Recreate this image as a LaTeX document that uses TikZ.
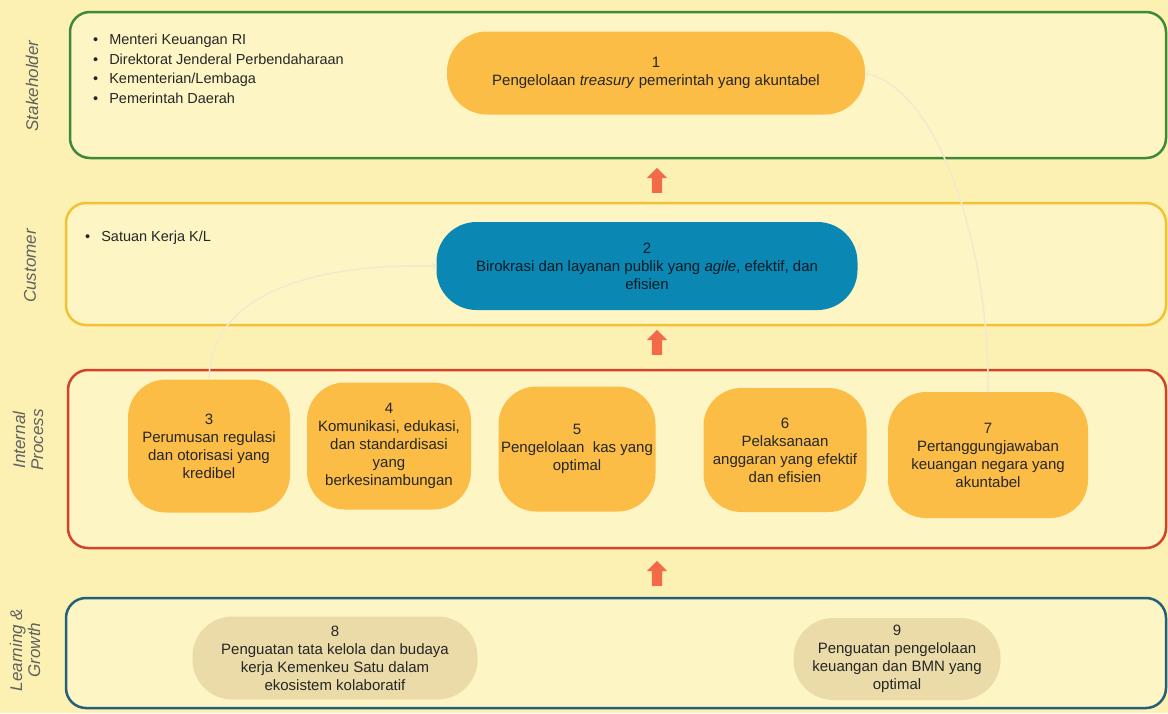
\documentclass[tikz,border=0pt]{standalone}
\usepackage{fontspec}
\setmainfont{Liberation Sans}
\usetikzlibrary{shapes.arrows}
\definecolor{kertas}{HTML}{FCF1B2}
\definecolor{isi}{HTML}{FEF5C4}
\definecolor{hijau}{HTML}{3F8A3A}
\definecolor{kuning}{HTML}{F0C234}
\definecolor{merah}{HTML}{D2432C}
\definecolor{biru}{HTML}{245F7C}
\definecolor{oranye}{HTML}{FBBD45}
\definecolor{tosca}{HTML}{0B87B3}
\definecolor{krem}{HTML}{EADBA8}
\definecolor{panah}{HTML}{F26A48}
\definecolor{garis}{HTML}{F2EAD0}
\definecolor{teks}{HTML}{262626}

\begin{document}
\begin{tikzpicture}[x=1pt,y=-1pt]
		\tikzset{
			lane/.style ={
				rectangle, %矩形
				rounded corners=20pt, %圆角
				line width=2.5pt, %边框粗细
				fill=isi %填充颜色
			},
			goal/.style ={
				rectangle,
				rounded corners=40pt,
				inner sep=0pt, %文字和边框的距离
				fill=oranye,
				text=teks,
				align=center,
				font=\fontsize{15}{18}\selectfont
			},
			proc/.style ={
				goal,
				rounded corners=38pt
			},
			growth/.style ={
				goal,
				fill=krem
			},
			side/.style ={
				rotate=90, %竖排
				align=center,
				text=black!62,
				font=\fontsize{17}{18}\selectfont\itshape
			},
			naik/.style ={
				single arrow, %块状箭头
				rotate=90,
				fill=panah,
				inner sep=5pt,
				minimum height=25pt,
				single arrow head extend=5pt
			},
			link/.style ={
				draw=garis,
				line width=1.5pt
			}
		}
		\fill[kertas] (0,0) rectangle (1168,713);
		\useasboundingbox (0,0) rectangle (1168,713);
		% 四个层次
		\node[lane,draw=hijau,minimum width=1096pt,minimum height=146pt] (sh) at(618,85){};
		\node[lane,draw=kuning,minimum width=1100pt,minimum height=122pt] (cu) at(616,264){};
		\node[lane,draw=merah,minimum width=1098pt,minimum height=178pt] (ip) at(617,459){};
		\node[lane,draw=biru,minimum width=1100pt,minimum height=110pt] (lg) at(616,653){};
		\node[side] (t1) at(32,86){Stakeholder};
		\node[side] (t2) at(30,266){Customer};
		\node[side] (t3) at(28,440){Internal\\Process};
		\node[side] (t4) at(25,650){Learning \&\\Growth};
		% 列表
		\node[anchor=north west,inner sep=0pt,align=left,text=teks,font=\fontsize{14.5}{19.5}\selectfont] (b1) at(93,34){%
			\textbullet\hspace{11pt}Menteri Keuangan RI\\
			\textbullet\hspace{11pt}Direktorat Jenderal Perbendaharaan\\
			\textbullet\hspace{11pt}Kementerian/Lembaga\\
			\textbullet\hspace{11pt}Pemerintah Daerah};
		\node[anchor=north west,inner sep=0pt,text=teks,font=\fontsize{14.5}{19.5}\selectfont] (b2) at(85,231){\textbullet\hspace{11pt}Satuan Kerja K/L};
		% 目标
		\node[goal,minimum width=418pt,minimum height=83pt] (1) at(656,73){1\\Pengelolaan \textit{treasury} pemerintah yang akuntabel};
		\node[goal,fill=tosca,text=black!80!tosca,minimum width=421pt,minimum height=88pt] (2) at(647,266){2\\Birokrasi dan layanan publik yang \textit{agile}, efektif, dan\\efisien};
		\node[proc,minimum width=162pt,minimum height=133pt] (3) at(209,446){3\\Perumusan regulasi\\dan otorisasi yang\\kredibel};
		\node[proc,minimum width=164pt,minimum height=127pt] (4) at(389,446){4\\Komunikasi, edukasi,\\dan standardisasi\\yang\\berkesinambungan};
		\node[proc,minimum width=157pt,minimum height=125pt] (5) at(577,449){5\\Pengelolaan\ \ kas yang\\optimal};
		\node[proc,minimum width=163pt,minimum height=124pt] (6) at(785,450){6\\Pelaksanaan\\anggaran yang efektif\\dan efisien};
		\node[proc,minimum width=200pt,minimum height=126pt] (7) at(988,455){7\\Pertanggungjawaban\\keuangan negara yang\\akuntabel};
		\node[growth,minimum width=285pt,minimum height=83pt] (8) at(335,658){8\\Penguatan tata kelola dan budaya\\kerja Kemenkeu Satu dalam\\ekosistem kolaboratif};
		\node[growth,minimum width=207pt,minimum height=82pt] (9) at(897,659){9\\Penguatan pengelolaan\\keuangan dan BMN yang\\optimal};
		% 箭头
		\node[naik] (a1) at(657,183){};
		\node[naik] (a2) at(657,345){};
		\node[naik] (a3) at(657,576){};
		\draw[link,->] (3.north) .. controls (210,300) and (300,263) .. (2.west);
		\draw[link,->] (7.north) .. controls (990,250) and (940,90) .. (1.east);
	\end{tikzpicture}
\end{document}
